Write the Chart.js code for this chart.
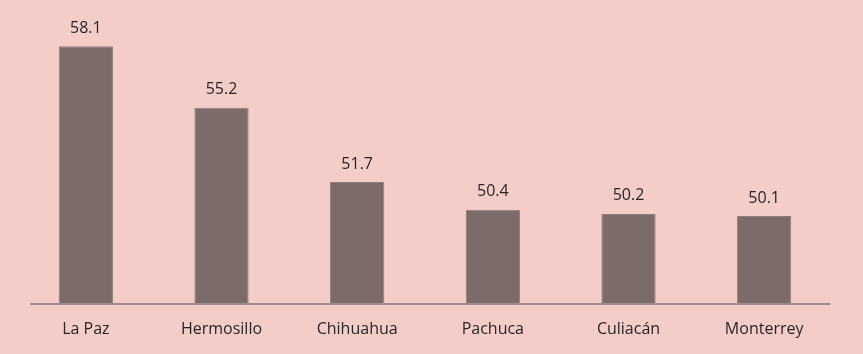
<!DOCTYPE html>
<html lang="es">
<head>
    <meta charset="UTF-8">
    <title>Ciudades</title>
    <script src="https://cdn.jsdelivr.net/npm/chart.js"></script>
    <style>
        html, body { margin: 0; padding: 0; background: #f4cdc9; }
        #wrap { width: 863px; height: 354px; }
    </style>
</head>
<body>
    <div id="wrap"><canvas id="cityChart"></canvas></div>

    <script>
        const cities = ['La Paz', 'Hermosillo', 'Chihuahua', 'Pachuca', 'Culiacán', 'Monterrey'];
        const values = [58.1, 55.2, 51.7, 50.4, 50.2, 50.1];

        // value labels above the bars + a baseline slightly inset from the plot edges
        const barValues = {
            id: 'barValues',
            beforeDatasetsDraw(chart) {
                const ctx = chart.ctx;
                const area = chart.chartArea;
                ctx.save();
                ctx.strokeStyle = '#a08c8a';
                ctx.lineWidth = 2;
                ctx.beginPath();
                ctx.moveTo(area.left + 12, area.bottom + 1);
                ctx.lineTo(area.right - 2, area.bottom + 1);
                ctx.stroke();
                ctx.restore();
            },
            afterDatasetsDraw(chart) {
                const ctx = chart.ctx;
                const meta = chart.getDatasetMeta(0);
                ctx.save();
                ctx.font = '16px "Open Sans"';
                ctx.fillStyle = '#262626';
                ctx.textAlign = 'center';
                ctx.textBaseline = 'bottom';
                meta.data.forEach((bar, i) => {
                    ctx.fillText(values[i].toFixed(1), bar.x, bar.y - 10);
                });
                ctx.restore();
            }
        };

        const ctx = document.getElementById('cityChart').getContext('2d');
        new Chart(ctx, {
            type: 'bar',
            data: {
                labels: cities,
                datasets: [{
                    data: values,
                    backgroundColor: '#7b6b69',
                    borderColor: '#8f7d7b',
                    borderWidth: 1,
                    categoryPercentage: 1,
                    barPercentage: 0.4
                }]
            },
            options: {
                responsive: true,
                maintainAspectRatio: false,
                animation: false,
                layout: { padding: { top: 6, left: 18, right: 31, bottom: 0 } },
                plugins: {
                    legend: { display: false },
                    tooltip: { enabled: false }
                },
                scales: {
                    x: {
                        grid: { display: false, drawTicks: false },
                        border: { display: false },
                        ticks: {
                            color: '#262626',
                            font: { family: 'Open Sans', size: 16 },
                            padding: 17
                        },
                        afterFit(scale) {
                            scale.height = 51;
                        }
                    },
                    y: {
                        display: false,
                        min: 46,
                        max: 60
                    }
                }
            },
            plugins: [barValues]
        });
    </script>
</body>
</html>
